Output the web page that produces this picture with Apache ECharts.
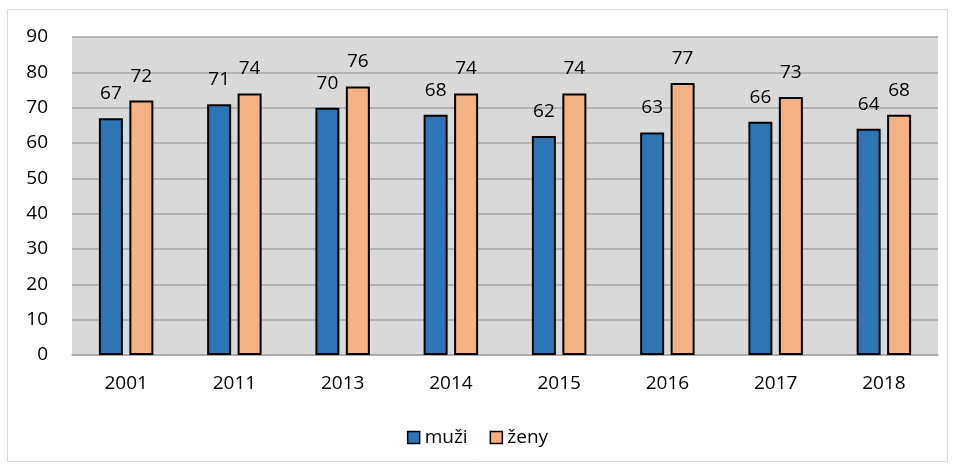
<!DOCTYPE html>
<html>
<head>
<meta charset="utf-8">
<script src="https://cdn.jsdelivr.net/npm/echarts@6/dist/echarts.min.js"></script>
<style>
  html, body { margin: 0; padding: 0; background: #fff; }
  #main { width: 955px; height: 470px; }
</style>
</head>
<body>
<div id="main"></div>
<script>
// roky
var years = ['2001', '2011', '2013', '2014', '2015', '2016', '2017', '2018'];
// hodnoty
var muzi = [67, 71, 70, 68, 62, 63, 66, 64];
var zeny = [72, 74, 76, 74, 74, 77, 73, 68];
var yTicks = [0, 10, 20, 30, 40, 50, 60, 70, 80, 90];

var fontName = 'Open Sans';
var chart = echarts.init(document.getElementById('main'));

var option = {
  animation: false,
  textStyle: { fontFamily: fontName },
  graphic: [{
    type: 'rect',
    shape: { x: 7.5, y: 9.5, width: 940, height: 452 },
    style: { fill: 'none', stroke: '#d9d9d9', lineWidth: 1 },
    silent: true
  }],
  grid: {
    left: 72, right: 17, top: 37, bottom: 115,
    show: true, backgroundColor: '#d9d9d9', borderWidth: 0
  },
  legend: {
    bottom: 18,
    left: 'center',
    icon: 'rect',
    itemWidth: 12, itemHeight: 12, itemGap: 22,
    itemStyle: { borderColor: '#000', borderWidth: 1.5 },
    textStyle: { fontSize: 19, color: '#000', fontFamily: fontName },
    data: ['muži', 'ženy']
  },
  xAxis: {
    type: 'category',
    data: years,
    axisLine: { show: true, lineStyle: { color: '#a6a6a6', width: 1.5 } },
    axisTick: { show: false },
    axisLabel: { fontSize: 19, color: '#000', margin: 19 }
  },
  yAxis: {
    type: 'value',
    min: yTicks[0], max: yTicks[yTicks.length - 1], interval: 10,
    axisLine: { show: false },
    axisTick: { show: false },
    axisLabel: { fontSize: 19, color: '#000', margin: 24 },
    splitLine: { lineStyle: { color: '#a6a6a6', width: 1.5 } }
  },
  series: [{
    name: 'muži',
    type: 'bar',
    data: muzi,
    barWidth: 24,
    barGap: '27%',
    itemStyle: { color: '#2e75b6', borderColor: '#000', borderWidth: 2 },
    label: { show: true, position: 'top', distance: 15, fontSize: 19, color: '#000' }
  }, {
    name: 'ženy',
    type: 'bar',
    data: zeny,
    barWidth: 24,
    itemStyle: { color: '#f4b183', borderColor: '#000', borderWidth: 2 },
    label: { show: true, position: 'top', distance: 15, fontSize: 19, color: '#000' }
  }]
};

chart.setOption(option);
</script>
</body>
</html>
